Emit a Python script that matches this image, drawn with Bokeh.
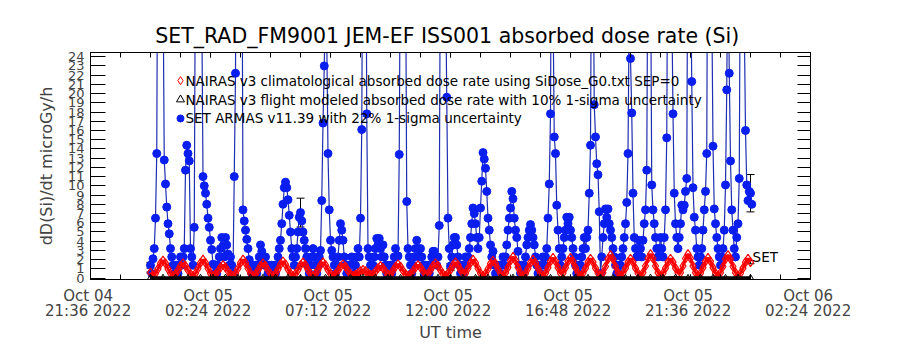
from bokeh.plotting import figure
from bokeh.models import (Range1d, LinearAxis, FixedTicker, Whisker, ColumnDataSource, TeeHead,
                          CustomLabelingPolicy)
from bokeh.core.properties import value
from bokeh.embed import file_html
from bokeh.resources import INLINE

# ---------------- data ----------------
# time axis: minutes since 2022-10-05 00:00 UT
x_tick_min = [-144, 144, 432, 720, 1008, 1296, 1584]
x_tick_labels = ["Oct  04\n21:36  2022", "Oct  05\n02:24  2022", "Oct  05\n07:12  2022",
                 "Oct  05\n12:00  2022", "Oct  05\n16:48  2022", "Oct  05\n21:36  2022",
                 "Oct  06\n02:24  2022"]
x_minor_min = [-144, -72, 0, 72, 144, 216, 288, 360, 432, 504, 576, 648, 720, 792, 864,
               936, 1008, 1080, 1152, 1224, 1296, 1368, 1440, 1512, 1584]
y_ticks = [0, 1, 2, 3, 4, 5, 6, 7, 8, 9, 10, 11, 12, 13, 14, 15, 16, 17, 18, 19, 20, 21, 22, 23, 24]

# SET ARMAS v11.39 absorbed dose rate (microGy/h), one value every 3 minutes
SET_CADENCE_MIN = 3
set_rate = [
    1.4, 0.5, 2.1, 3.2, 6.5, 13.5, 48, 72, 65, 51, 33, 12.8, 10.2, 7.7, 5.9, 4.8, 3.2, 2.3, 1.4, 0.5,
    0.5, 1.4, 0.5, 1.4, 2.3, 1.4, 2.3, 3.2, 11.7, 14.4, 13.5, 12.7, 3.2, 2.3, 1.4, 5.5, 38, 70, 85, 60,
    45, 30, 11.0, 10.0, 9.2, 8.0, 6.5, 5.5, 4.1, 3.1, 1.5, 0.5, 1.4, 0.5, 1.4, 2.3, 3.2, 4.4, 3.5, 2.3,
    4.4, 3.6, 2.6, 1.4, 2.3, 1.4, 0.5, 11.0, 22.2, 55, 80, 90, 70, 45, 7.4, 6.2, 5.2, 4.2, 3.2, 2.0,
    1.3, 0.5, 1.4, 0.5, 1.4, 0.5, 1.4, 2.3, 3.6, 2.9, 2.2, 1.4, 2.3, 1.4, 0.5, 1.4, 0.5, 1.4, 0.5, 1.4,
    0.5, 1.4, 2.3, 3.2, 4.1, 5.9, 8.0, 9.8, 10.4, 9.8, 8.5, 6.8, 5.0, 3.2, 2.3, 1.4, 2.3, 3.2, 5.0, 6.6,
    7.1, 6.2, 5.0, 4.1, 3.2, 2.3, 1.4, 0.5, 1.4, 2.3, 3.2, 2.3, 1.4, 0.5, 1.4, 2.3, 3.0, 8.4, 16.8, 23.0,
    30, 26, 13.5, 7.4, 4.1, 3.0, 2.3, 1.4, 0.5, 1.4, 2.3, 4.1, 5.9, 5.2, 4.1, 2.3, 1.4, 0.5, 1.4, 0.5,
    1.4, 2.3, 1.4, 0.5, 1.4, 2.3, 3.2, 2.3, 6.5, 16.1, 45, 70, 52, 17.8, 3.2, 2.3, 1.4, 0.5, 1.4, 2.3,
    3.2, 4.3, 3.6, 4.3, 3.2, 2.3, 3.6, 2.3, 1.4, 0.5, 1.4, 0.5, 1.4, 0.5, 1.4, 2.3, 3.2, 2.3, 2.4, 13.4,
    40, 66, 75, 58, 36, 8.3, 3.2, 2.3, 1.4, 0.5, 1.4, 2.3, 3.2, 4.1, 3.2, 2.3, 3.2, 2.3, 1.4, 0.5,
    1.4, 0.5, 1.4, 0.5, 1.4, 2.3, 2.9, 2.9, 2.3, 1.4, 2.3, 5.7, 40, 62, 70, 54, 33, 19.6, 6.5, 3.2,
    1.3, 2.3, 3.6, 4.4, 4.4, 3.6, 2.3, 1.4, 0.5, 1.4, 0.5, 1.4, 2.3, 1.4, 2.3, 3.2, 4.4, 5.9, 7.6, 7.0,
    5.9, 4.4, 3.2, 4.4, 7.6, 10.5, 13.6, 12.9, 11.9, 9.4, 6.5, 5.2, 3.6, 2.3, 2.9, 1.4, 0.5, 1.4, 0.5, 1.4,
    0.5, 1.4, 2.3, 1.4, 2.3, 3.6, 5.2, 6.5, 7.6, 9.4, 8.6, 6.5, 5.2, 4.4, 2.9, 1.4, 0.5, 1.4, 0.5, 1.4,
    2.3, 3.6, 4.4, 5.2, 5.8, 5.2, 4.4, 3.6, 2.3, 1.4, 0.5, 1.4, 0.5, 1.4, 2.3, 1.4, 2.3, 3.2, 6.5, 10.2,
    17.8, 48, 30, 15.3, 13.5, 7.9, 5.2, 3.2, 1.4, 2.3, 3.2, 4.4, 5.2, 6.6, 5.9, 6.6, 5.2, 4.4, 3.2, 2.3,
    1.4, 0.5, 1.4, 0.5, 1.4, 2.3, 3.2, 4.4, 3.2, 4.4, 5.2, 9.2, 14.4, 42, 38, 18.8, 15.3, 12.4, 11.2, 7.2,
    0.5, 2.3, 4.4, 5.9, 7.5, 6.6, 7.5, 5.9, 5.2, 4.4, 3.2, 2.3, 1.4, 0.5, 1.4, 0.5, 1.4, 2.3, 3.2, 4.4,
    5.9, 8.2, 13.5, 30, 23.8, 17.9, 9.2, 4.4, 3.2, 2.3, 3.2, 4.1, 3.2, 2.3, 4.1, 5.9, 7.4, 11.7, 40, 55,
    36, 10.1, 7.4, 5.9, 4.4, 3.2, 2.3, 3.2, 4.4, 3.2, 2.3, 4.4, 7.4, 15.2, 45, 62, 50, 30, 17.8, 9.2,
    5.9, 4.4, 3.2, 4.4, 5.9, 7.9, 7.4, 7.9, 9.4, 10.8, 44, 60, 35, 21.3, 9.8, 6.6, 5.2, 3.2, 2.3, 1.4,
    2.3, 3.2, 5.2, 7.4, 9.4, 13.5, 50, 68, 45, 30, 14.3, 7.5, 5.9, 4.4, 3.2, 2.3, 1.4, 2.3, 3.2, 5.2,
    10.1, 20.4, 38, 22.2, 12.7, 7.4, 5.2, 3.2, 2.3, 4.4, 5.9, 10.8, 40, 58, 45, 28, 16.0, 10.1, 8.4, 9.4,
    9.2, 8.0,
]

# NAIRAS v3 climatological absorbed dose rate (SiDose_G0.txt, SEP=0), one value every 6 minutes
CLIM_CADENCE_MIN = 6
nairas_clim = [
    0.6, 0.3, 0.5, 1.0, 1.6, 1.9, 1.6, 1.0, 0.5, 0.25,
    0.45, 0.86, 1.33, 1.6, 1.33, 0.86, 0.45, 0.25, 0.51, 1.04,
    1.65, 2.0, 1.65, 1.04, 0.51, 0.25, 0.42, 0.77, 1.17, 1.4,
    1.17, 0.77, 0.42, 0.25, 0.51, 1.04, 1.65, 2.0, 1.65, 1.04,
    0.51, 0.25, 0.45, 0.86, 1.33, 1.6, 1.33, 0.86, 0.45, 0.25,
    0.48, 0.95, 1.49, 1.8, 1.49, 0.95, 0.48, 0.25, 0.47, 0.9,
    1.41, 1.7, 1.41, 0.9, 0.47, 0.25, 0.47, 0.9, 1.41, 1.7,
    1.41, 0.9, 0.47, 0.25, 0.44, 0.81, 1.25, 1.5, 1.25, 0.81,
    0.44, 0.25, 0.35, 0.54, 0.77, 0.9, 0.77, 0.54, 0.35, 0.41,
    0.72, 1.09, 1.3, 1.09, 0.72, 0.41, 0.35, 0.81, 1.25, 1.5,
    1.25, 0.81, 0.44, 0.25, 0.42, 0.77, 1.17, 1.4, 1.17, 0.77,
    0.42, 0.45, 0.86, 1.33, 1.6, 1.33, 0.86, 0.45, 0.25, 0.47,
    0.9, 1.41, 1.7, 1.41, 0.9, 0.47, 0.51, 1.04, 1.65, 2.0,
    1.65, 1.04, 0.51, 0.25, 0.5, 0.99, 1.57, 1.9, 1.57, 0.99,
    0.5, 0.25, 0.56, 1.17, 1.89, 2.3, 1.89, 1.17, 0.56, 0.25,
    0.51, 1.04, 1.65, 2.0, 1.65, 1.04, 0.51, 0.25, 0.54, 1.13,
    1.81, 2.2, 1.81, 1.13, 0.54, 0.54, 1.13, 1.81, 2.2, 1.81,
    1.13, 0.54, 0.25, 0.53, 1.08, 1.73, 2.1, 1.73, 1.08, 0.53,
    0.25, 0.59, 1.26, 2.05, 2.5, 2.05, 1.26, 0.59, 0.25, 0.53,
    1.08, 1.73, 2.1, 1.73, 1.08, 0.53, 0.25, 0.6, 1.31, 2.13,
    2.6, 2.13, 1.31, 0.6, 0.25, 0.53, 1.08, 1.73, 2.1, 1.73,
    1.08, 0.53, 0.6, 1.31, 2.13, 2.6, 2.13, 1.31, 0.6, 0.25,
    0.54, 1.13, 1.81, 2.2, 1.81, 1.13, 0.54, 0.25, 0.59, 1.26,
    2.05, 2.5, 2.05, 1.26, 0.59, 0.25, 0.53, 1.08, 1.73, 2.1,
    1.73,
]

# NAIRAS v3 flight modeled absorbed dose rate, one value every 30 minutes
FLIGHT_CADENCE_MIN = 30
nairas_flight = [
    0.04, 0.05, 0.04, 0.03, 0.05, 0.04, 0.06, 0.04, 0.03, 0.05,
    0.04, 0.05, 0.04, 0.03, 0.04, 0.05, 0.04, 0.06, 0.05, 0.04,
    0.03, 0.04, 0.05, 0.04, 0.05, 0.04, 0.03, 0.05, 0.04, 0.06,
    0.04, 0.05, 0.04, 0.03, 0.05, 0.04, 0.05, 0.04, 0.03, 0.04,
    0.05, 0.04, 0.06, 0.04, 0.05, 0.04, 0.03, 0.05, 0.04,
]

# error bars drawn every 6 hours
err_time_min = [0, 360, 720, 1080, 1440]
SET_SIGMA = 0.22
FLIGHT_SIGMA = 0.10

legend_labels = [
    "NAIRAS v3 climatological absorbed dose rate using SiDose_G0.txt SEP=0",
    "NAIRAS v3 flight modeled absorbed dose rate with 10% 1-sigma uncertainty",
    "SET ARMAS v11.39 with 22% 1-sigma uncertainty",
]

# ---------------- derived ----------------
set_t = [SET_CADENCE_MIN * i for i in range(len(set_rate))]
clim_t = [CLIM_CADENCE_MIN * i for i in range(len(nairas_clim))]
flight_t = [FLIGHT_CADENCE_MIN * i for i in range(len(nairas_flight))]

set_err_v = [set_rate[t // SET_CADENCE_MIN] for t in err_time_min]
clim_err_v = [nairas_clim[t // CLIM_CADENCE_MIN] for t in err_time_min]
set_err = ColumnDataSource(dict(
    x=err_time_min,
    lo=[v * (1 - SET_SIGMA) for v in set_err_v],
    hi=[v * (1 + SET_SIGMA) for v in set_err_v]))
clim_err = ColumnDataSource(dict(
    x=err_time_min,
    lo=[v * (1 - FLIGHT_SIGMA) for v in clim_err_v],
    hi=[v * (1 + FLIGHT_SIGMA) for v in clim_err_v]))

FONT = "DejaVu Sans"

p = figure(width=900, height=350, output_backend="svg", toolbar_location=None,
           x_range=Range1d(-144, 1584), y_range=Range1d(-0.15, 24.45),
           min_border_left=90, min_border_right=90, min_border_top=52, min_border_bottom=71,
           background_fill_color="white", border_fill_color="white")
p.grid.visible = False
p.outline_line_color = "black"
p.outline_line_width = 1

p.title.text = "SET_RAD_FM9001  JEM-EF ISS001 absorbed dose rate (Si)"
p.title.align = "center"
p.title.text_font = FONT
p.title.text_font_size = "20.5px"
p.title.text_font_style = "normal"
p.title.text_color = "black"

xt = FixedTicker(ticks=x_tick_min, minor_ticks=x_minor_min)
yt = FixedTicker(ticks=y_ticks, minor_ticks=[])

xa = p.xaxis[0]
xa.ticker = xt
xa.major_label_overrides = {t: lab for t, lab in zip(x_tick_min, x_tick_labels)}
xa.major_label_text_font = FONT
xa.major_label_text_font_size = "15px"
xa.major_label_text_line_height = 0.85
xa.major_label_standoff = 7
xa.major_tick_in = 5
xa.major_tick_out = 0
xa.minor_tick_in = 5
xa.minor_tick_out = 0
xa.axis_label = "UT time"
xa.axis_label_text_font = FONT
xa.axis_label_text_font_size = "16px"
xa.axis_label_text_font_style = "normal"
xa.axis_label_standoff = 0
xa.axis_line_color = "black"

ya = p.yaxis[0]
ya.ticker = yt
ya.major_label_text_font = FONT
ya.major_label_text_font_size = "13px"
ya.major_label_standoff = 6
ya.major_tick_in = 15
ya.major_tick_out = 0
ya.minor_tick_line_color = None
ya.axis_label = "dD(Si)/dt microGy/h"
ya.axis_label_text_font = FONT
ya.axis_label_text_font_size = "16px"
ya.axis_label_text_font_style = "normal"
ya.axis_label_standoff = 9

# top and right axes carry ticks only (IDL box style); their labels are filtered out
hide_labels = "for (const i of indices) { indices.unset(i) }\nreturn indices"
top = LinearAxis(ticker=xt, major_label_policy=CustomLabelingPolicy(code=hide_labels),
                 major_label_text_font_size="0px", major_label_standoff=0,
                 major_tick_in=5, major_tick_out=0, minor_tick_in=5, minor_tick_out=0,
                 axis_line_color="black")
p.add_layout(top, "above")
right = LinearAxis(ticker=yt, major_label_policy=CustomLabelingPolicy(code=hide_labels),
                   major_label_text_font_size="0px", major_label_standoff=0,
                   major_tick_in=13, major_tick_out=0, minor_tick_line_color=None,
                   axis_line_color="black")
p.add_layout(right, "right")

# series
p.line(set_t, set_rate, line_color="#1f2db0", line_width=1.2)
p.scatter(set_t, set_rate, marker="circle", size=8, fill_color="#0a1ef0", line_color="#0a1ef0")

p.line(clim_t, nairas_clim, line_color="red", line_width=3)
p.scatter(clim_t, nairas_clim, marker="diamond", size=9, fill_color=None, line_color="red", line_width=1.2)

p.line(flight_t, nairas_flight, line_color="black", line_width=3)
p.scatter(flight_t, nairas_flight, marker="triangle", size=6, fill_color=None, line_color="black")

p.add_layout(Whisker(source=set_err, base="x", lower="lo", upper="hi", line_color="black",
                     upper_head=TeeHead(size=8, line_color="black"),
                     lower_head=TeeHead(size=8, line_color="black")))
p.add_layout(Whisker(source=clim_err, base="x", lower="lo", upper="hi", line_color="black",
                     upper_head=TeeHead(size=8, line_color="black"),
                     lower_head=TeeHead(size=8, line_color="black")))

# legend (drawn IDL-style inside the plot)
leg_sym_x = [72, 72, 72]
leg_txt_x = [84, 84, 84]
leg_y = [21.4, 19.35, 17.3]
p.scatter([leg_sym_x[0]], [leg_y[0]], marker="diamond", size=8, fill_color=None, line_color="red")
p.scatter([leg_sym_x[1]], [leg_y[1]], marker="triangle", size=8, fill_color=None, line_color="black")
p.scatter([leg_sym_x[2]], [leg_y[2]], marker="circle", size=7, fill_color="#0a1ef0", line_color="#0a1ef0")
p.text(x=leg_txt_x, y=leg_y, text=legend_labels, text_font=value(FONT), text_font_size="13.5px",
       text_baseline="middle", text_align="left", text_color="black")

p.text(x=[1445], y=[2.3], text=["SET"], text_font=value(FONT), text_font_size="13.5px",
       text_baseline="middle", text_align="left", text_color="black")

open("out.html", "w").write(file_html(p, INLINE))
